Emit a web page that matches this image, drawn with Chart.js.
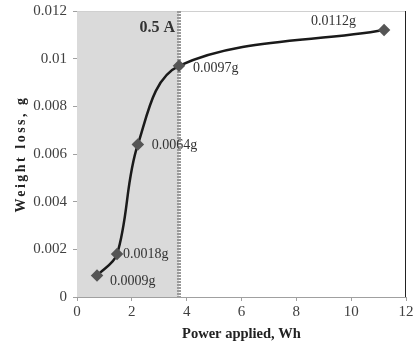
<!DOCTYPE html>
<html>
<head>
<meta charset="utf-8">
<script src="https://cdn.jsdelivr.net/npm/chart.js@4"></script>
<style>
  html, body { margin: 0; padding: 0; background: #fff; }
  #wrap { width: 414px; height: 347px; }
</style>
</head>
<body>
<div id="wrap"><canvas id="chartWeightLoss" width="414" height="347"></canvas></div>
<script>
// values
const powerWh = [0.73, 1.46, 2.22, 3.72, 11.2];
const weightLoss = [0.0009, 0.0018, 0.0064, 0.0097, 0.0112];
const pointLabels = ['0.0009g', '0.0018g', '0.0064g', '0.0097g', '0.0112g'];
const xTicks = [0, 2, 4, 6, 8, 10, 12];
const yTicks = [0, 0.002, 0.004, 0.006, 0.008, 0.01, 0.012];
const currentLimit = 3.72;   // 0.5 A boundary
const limitLabel = '0.5 A';
const yTitle = 'Weight loss, g';

const labelOffsets = [[13, 6, 'left'], [6, 0, 'left'], [14, 1, 'left'], [14, 3, 'left'], [-28, -9, 'right']];
const serif = '"Liberation Serif", serif';

const regionPlugin = {
  id: 'region',
  beforeDatasetsDraw(chart) {
    const { ctx, chartArea: a, scales: { x } } = chart;
    const xl = x.getPixelForValue(currentLimit);
    ctx.save();
    ctx.fillStyle = '#dadada';
    ctx.fillRect(a.left, a.top, xl - a.left, a.bottom - a.top);
    // plot border: light top, dark right
    ctx.strokeStyle = '#d0d0d0';
    ctx.lineWidth = 1;
    ctx.beginPath();
    ctx.moveTo(a.left, a.top + 0.5);
    ctx.lineTo(a.right, a.top + 0.5);
    ctx.stroke();
    ctx.strokeStyle = '#222';
    ctx.beginPath();
    ctx.moveTo(a.right - 0.5, a.top);
    ctx.lineTo(a.right - 0.5, a.bottom);
    ctx.stroke();
    // boundary line
    ctx.strokeStyle = '#9a9a9a';
    ctx.lineWidth = 4;
    ctx.setLineDash([2, 1]);
    ctx.beginPath();
    ctx.moveTo(xl, a.top);
    ctx.lineTo(xl, a.bottom);
    ctx.stroke();
    ctx.setLineDash([]);
    ctx.fillStyle = '#333';
    ctx.font = 'bold 16px ' + serif;
    ctx.textAlign = 'right';
    ctx.textBaseline = 'middle';
    ctx.fillText(limitLabel, xl - 4, a.top + 17);
    // y axis title, widely spaced like the original
    ctx.translate(21, (a.top + a.bottom) / 2);
    ctx.rotate(-Math.PI / 2);
    ctx.letterSpacing = '2.5px';
    ctx.textAlign = 'center';
    ctx.fillStyle = '#222';
    ctx.font = 'bold 14px ' + serif;
    ctx.fillText(yTitle, 0, 0);
    ctx.restore();
  },
  afterDatasetsDraw(chart) {
    const { ctx } = chart;
    const meta = chart.getDatasetMeta(0);
    ctx.save();
    ctx.fillStyle = '#333';
    ctx.font = '14px ' + serif;
    ctx.textBaseline = 'middle';
    meta.data.forEach((pt, i) => {
      const [dx, dy, align] = labelOffsets[i];
      ctx.textAlign = align;
      ctx.fillText(pointLabels[i], pt.x + dx, pt.y + dy);
    });
    ctx.restore();
  }
};

new Chart(document.getElementById('chartWeightLoss'), {
  type: 'scatter',
  data: {
    datasets: [{
      data: powerWh.map((p, i) => ({ x: p, y: weightLoss[i] })),
      showLine: true,
      borderColor: '#1a1a1a',
      borderWidth: 2.5,
      tension: 0.35,
      pointStyle: 'rectRot',
      pointRadius: 4.5,
      pointBackgroundColor: '#555',
      pointBorderColor: '#555'
    }]
  },
  options: {
    responsive: false,
    animation: false,
    layout: { padding: { top: 11, right: 8, left: 0, bottom: 0 } },
    plugins: { legend: { display: false }, tooltip: { enabled: false } },
    scales: {
      x: {
        type: 'linear', min: 0, max: 12,
        afterBuildTicks: s => { s.ticks = xTicks.map(v => ({ value: v })); },
        afterFit: s => { s.height = 50; s.paddingRight = 0; },
        grid: { drawOnChartArea: false, tickLength: 4, color: '#a0a0a0' },
        border: { color: '#a0a0a0' },
        ticks: { color: '#404040', font: { family: serif, size: 15 }, padding: 2 },
        title: { display: true, text: 'Power applied, Wh', color: '#222',
                 font: { family: serif, size: 14.5, weight: 'bold' }, padding: { top: 0 } }
      },
      y: {
        min: 0, max: 0.012,
        afterBuildTicks: s => { s.ticks = yTicks.map(v => ({ value: v })); },
        afterFit: s => { s.width = 77; s.paddingTop = 0; s.paddingBottom = 0; },
        grid: { drawOnChartArea: false, tickLength: 4, color: '#a0a0a0' },
        border: { color: '#a0a0a0' },
        ticks: { color: '#404040', font: { family: serif, size: 15 }, padding: 6,
                 callback: v => String(+v.toFixed(3)) }
      }
    }
  },
  plugins: [regionPlugin]
});
</script>
</body>
</html>
